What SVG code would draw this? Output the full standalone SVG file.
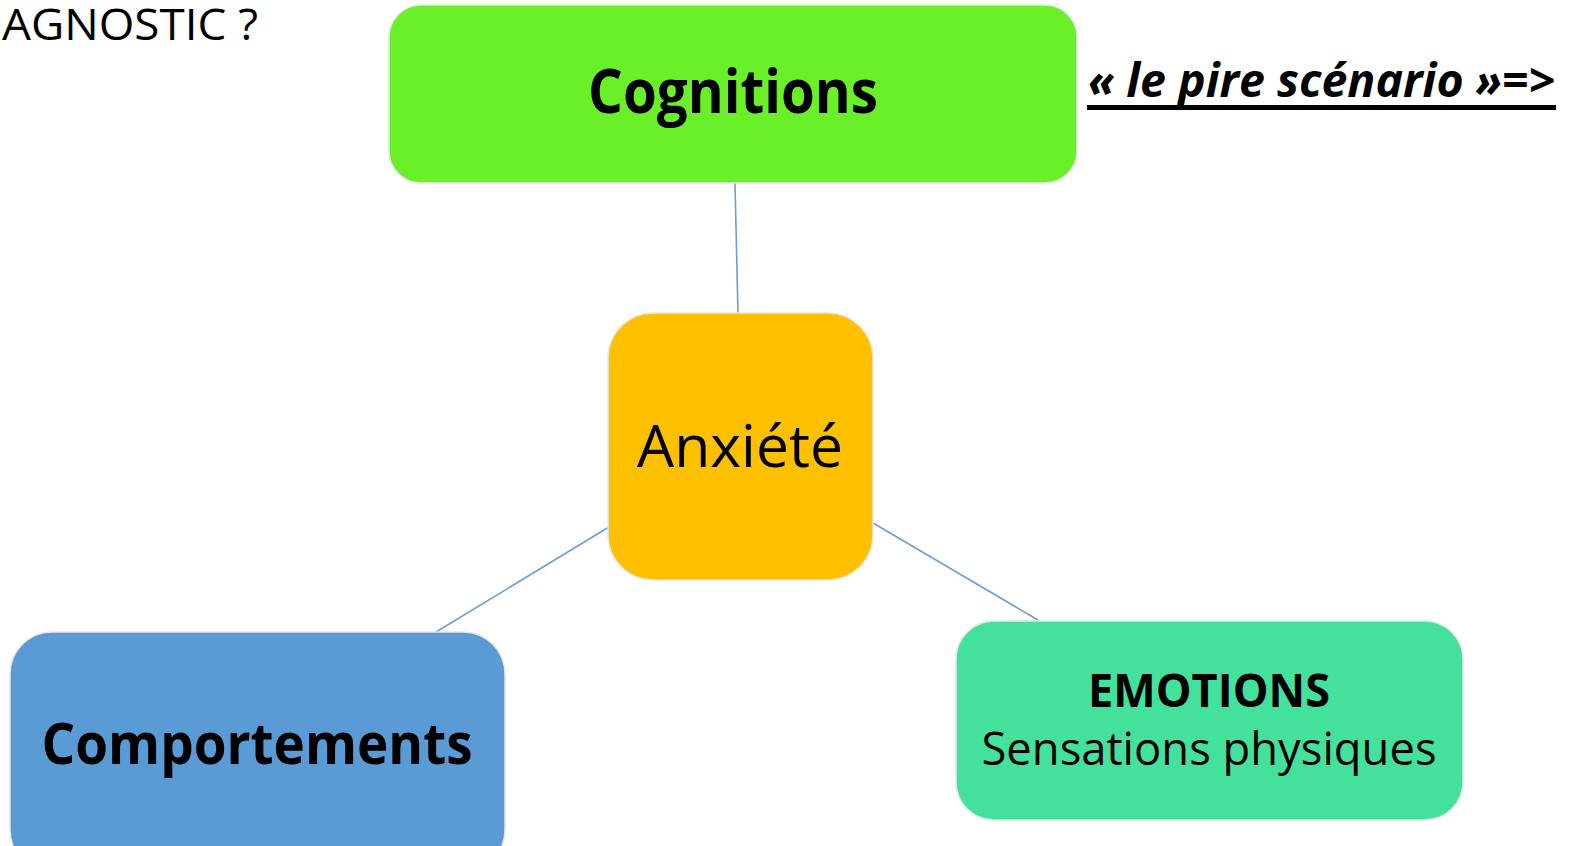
<svg xmlns="http://www.w3.org/2000/svg" width="1569" height="846" viewBox="0 0 1569 846">
<style>
.box{stroke:#e6e6e6;stroke-width:1.5}
.conn{stroke:#6b9fd4;stroke-width:1.6;fill:none}
.t{font-family:"Open Sans","Noto Sans","Liberation Sans",sans-serif;fill:#000}
.b{font-weight:bold}
</style>
<rect width="1569" height="846" fill="#ffffff"/>
<text class="t" x="2" y="40" font-size="44" textLength="256" lengthAdjust="spacingAndGlyphs">AGNOSTIC ?</text>
<g id="connectors">
<line class="conn" x1="735" y1="183" x2="738" y2="314"/>
<line class="conn" x1="609" y1="527" x2="436" y2="632"/>
<line class="conn" x1="873" y1="523" x2="1038" y2="620"/>
</g>
<g id="cognitions">
<rect class="box" x="389" y="5" width="688" height="178" rx="32" fill="#6af028"/>
<text class="t b" x="733" y="113" font-size="60" text-anchor="middle" textLength="290" lengthAdjust="spacingAndGlyphs">Cognitions</text>
</g>
<g id="scenario">
<text class="t b" x="1088" y="97" font-size="46" font-style="italic" textLength="467" lengthAdjust="spacingAndGlyphs">« le pire scénario »=&gt;</text>
<rect x="1087" y="105" width="469" height="5" fill="#000"/>
</g>
<g id="anxiete">
<rect class="box" x="608" y="313" width="265" height="267" rx="45" fill="#ffc000"/>
<text class="t" x="740" y="467" font-size="58" text-anchor="middle" textLength="206" lengthAdjust="spacingAndGlyphs">Anxiété</text>
</g>
<g id="comportements">
<rect class="box" x="10" y="632" width="495" height="240" rx="42" fill="#5b9bd5"/>
<text class="t b" x="257" y="764" font-size="58" text-anchor="middle" textLength="431" lengthAdjust="spacingAndGlyphs">Comportements</text>
</g>
<g id="emotions">
<rect class="box" x="956" y="621" width="507" height="199" rx="38" fill="#43e19c"/>
<text class="t b" x="1209" y="707" font-size="46" text-anchor="middle" textLength="242" lengthAdjust="spacingAndGlyphs">EMOTIONS</text>
<text class="t" x="1209" y="765" font-size="46" text-anchor="middle" textLength="455" lengthAdjust="spacingAndGlyphs">Sensations physiques</text>
</g>
</svg>
